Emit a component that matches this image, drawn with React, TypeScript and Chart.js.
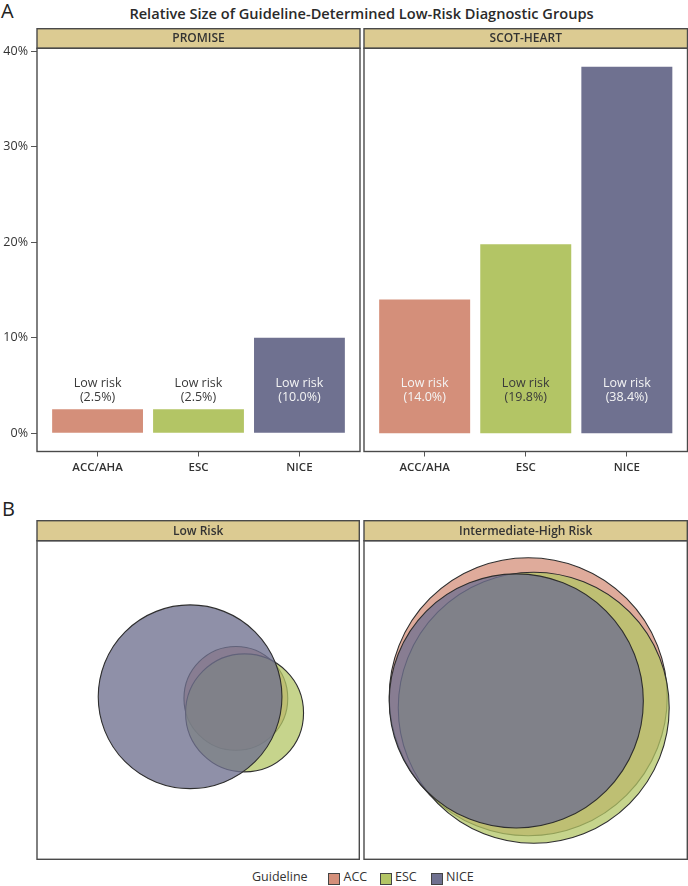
import React, { useEffect, useRef } from 'react';
import { Chart, registerables } from 'chart.js';

Chart.register(...registerables);

const FONT = '"Open Sans", "Noto Sans", "DejaVu Sans", sans-serif';

// ---------- Panel A data ----------
const guidelines = ['ACC/AHA', 'ESC', 'NICE'];
const promiseLowRisk = [2.5, 2.5, 10.0];
const scotHeartLowRisk = [14.0, 19.8, 38.4];
const yTickValues = [0, 10, 20, 30, 40];
const studyNames = ['PROMISE', 'SCOT-HEART'];

// ---------- Panel B data (Venn circles: centre x, centre y, radius in plot units) ----------
const vennGuidelines = ['ACC', 'ESC', 'NICE'];
const lowRiskX = [61.7, 64.4, 47.5];
const lowRiskY = [49.9, 45.4, 50.4];
const lowRiskR = [16.1, 18.3, 28.5];
const intHighX = [50.8, 52.5, 47.1];
const intHighY = [50.4, 47.0, 49.1];
const intHighR = [43.0, 41.9, 39.3];
const riskNames = ['Low Risk', 'Intermediate-High Risk'];

// ---------- styles ----------
const barColors = ['#d48f7a', '#b3c565', '#6f7190'];
const vennFill = ['rgba(212,143,122,0.75)', 'rgba(179,197,101,0.75)', 'rgba(111,113,144,0.78)'];
const labelInkOnBar = ['#f4f4f4', '#3a3a3a', '#f4f4f4'];
const STRIP_FILL = '#dccb92';
const BORDER = '#4a4a4a';
const LABEL_Y = 4.5;

const panelPlugin = {
  id: 'panelDecor',
  afterDatasetsDraw(chart: any, _args: any, opts: any) {
    const { ctx, chartArea: a } = chart;
    const w = a.right - a.left;
    ctx.save();
    ctx.fillStyle = STRIP_FILL;
    ctx.fillRect(a.left, a.top - opts.stripHeight, w, opts.stripHeight);
    ctx.lineWidth = 1.4;
    ctx.strokeStyle = BORDER;
    ctx.strokeRect(a.left, a.top - opts.stripHeight, w, opts.stripHeight);
    ctx.strokeRect(a.left, a.top, w, a.bottom - a.top);
    ctx.fillStyle = '#333';
    ctx.font = `600 12px ${FONT}`;
    ctx.textAlign = 'center';
    ctx.textBaseline = 'middle';
    ctx.fillText(opts.label, (a.left + a.right) / 2, a.top - opts.stripHeight / 2 + 0.5);
    ctx.restore();
  },
};

const barLabelPlugin = {
  id: 'barLabels',
  afterDatasetsDraw(chart: any) {
    const { ctx } = chart;
    const meta = chart.getDatasetMeta(0);
    const ys = chart.scales.y;
    const yc = ys.getPixelForValue(LABEL_Y);
    const data = chart.data.datasets[0].data;
    ctx.save();
    ctx.font = `12.5px ${FONT}`;
    ctx.textAlign = 'center';
    ctx.textBaseline = 'middle';
    meta.data.forEach((bar: any, i: number) => {
      const v = data[i].y;
      const onBar = v > LABEL_Y + 3;
      ctx.fillStyle = onBar ? labelInkOnBar[i] : '#3a3a3a';
      ctx.fillText('Low risk', bar.x, yc - 7.2);
      ctx.fillText(`(${v.toFixed(1)}%)`, bar.x, yc + 7.2);
    });
    ctx.restore();
  },
};

function makeBarChart(canvas: HTMLCanvasElement, values: number[], label: string, showY: boolean, padding: any) {
  return new Chart(canvas, {
    type: 'bar',
    data: {
      datasets: [
        {
          data: values.map((v, i) => ({ x: i + 1, y: v })),
          backgroundColor: barColors,
          borderWidth: 0,
          barPercentage: 0.9,
          categoryPercentage: 1,
        },
      ],
    },
    options: {
      animation: false,
      responsive: false,
      maintainAspectRatio: false,
      events: [],
      layout: { padding },
      plugins: {
        legend: { display: false },
        tooltip: { enabled: false },
        title: { display: false },
        panelDecor: { label, stripHeight: 19.6 },
      } as any,
      scales: {
        x: {
          type: 'linear',
          min: 0.4,
          max: 3.6,
          offset: false,
          afterBuildTicks: (s: any) => {
            s.ticks = guidelines.map((_, i) => ({ value: i + 1 }));
          },
          afterFit: (s: any) => {
            s.height = 38.5;
          },
          ticks: {
            autoSkip: false,
            maxRotation: 0,
            padding: 4,
            color: '#333',
            font: { family: FONT, size: 11.5, weight: '600' },
            callback: (v: any) => guidelines[Math.round(v) - 1],
          },
          grid: {
            display: true,
            offset: false,
            drawOnChartArea: false,
            drawTicks: true,
            tickLength: 5,
            color: '#555',
          },
          border: { display: false },
        },
        y: {
          display: showY,
          min: -1.92,
          max: 40.32,
          afterBuildTicks: (s: any) => {
            s.ticks = yTickValues.map((v) => ({ value: v }));
          },
          afterFit: (s: any) => {
            s.width = showY ? 37 : 0;
          },
          ticks: {
            padding: 3,
            color: '#333',
            font: { family: FONT, size: 12.5 },
            callback: (v: any) => `${v}%`,
          },
          grid: { display: true, drawOnChartArea: false, drawTicks: true, tickLength: 6, color: '#555' },
          border: { display: false },
        },
      } as any,
    },
    plugins: [panelPlugin, barLabelPlugin],
  } as any);
}

function makeVennChart(canvas: HTMLCanvasElement, xs: number[], ys: number[], rs: number[], label: string, padding: any) {
  return new Chart(canvas, {
    type: 'scatter',
    data: {
      labels: vennGuidelines,
      datasets: [
        {
          data: xs.map((x, i) => ({ x, y: ys[i] })),
          backgroundColor: vennFill,
          borderColor: '#2e2e2e',
          borderWidth: 1.1,
          pointStyle: 'circle',
          clip: false as any,
          pointRadius: (ctx: any) => {
            if (ctx.dataIndex === undefined) return 3;
            const sx = ctx.chart.scales.x;
            return Math.abs(sx.getPixelForValue(rs[ctx.dataIndex]) - sx.getPixelForValue(0));
          },
          pointHoverRadius: 0,
        },
      ],
    },
    options: {
      animation: false,
      responsive: false,
      maintainAspectRatio: false,
      events: [],
      layout: { padding },
      plugins: {
        legend: { display: false },
        tooltip: { enabled: false },
        panelDecor: { label, stripHeight: 20 },
      } as any,
      scales: {
        x: { type: 'linear', min: 0, max: 100, display: false },
        y: { type: 'linear', min: 0, max: 98.8, display: false },
      },
    },
    plugins: [panelPlugin],
  } as any);
}

export default function App() {
  const aL = useRef<HTMLCanvasElement>(null);
  const aR = useRef<HTMLCanvasElement>(null);
  const bL = useRef<HTMLCanvasElement>(null);
  const bR = useRef<HTMLCanvasElement>(null);

  useEffect(() => {
    const charts = [
      makeBarChart(aL.current!, promiseLowRisk, studyNames[0], true, { top: 48.3, left: 0, right: 2, bottom: 0 }),
      makeBarChart(aR.current!, scotHeartLowRisk, studyNames[1], false, { top: 48.3, left: 2, right: 0.5, bottom: 0 }),
      makeVennChart(bL.current!, lowRiskX, lowRiskY, lowRiskR, riskNames[0], { top: 40.7, left: 37, right: 2.7, bottom: 2.7 }),
      makeVennChart(bR.current!, intHighX, intHighY, intHighR, riskNames[1], { top: 40.7, left: 2, right: 0.7, bottom: 2.7 }),
    ];
    return () => charts.forEach((c) => c.destroy());
  }, []);

  const cv = (left: number, top: number, w: number, h: number): React.CSSProperties => ({
    position: 'absolute',
    left,
    top,
    width: w,
    height: h,
  });

  const legendItems = [
    { box: 328, text: 343.5 },
    { box: 380, text: 395 },
    { box: 430.7, text: 446 },
  ];

  return (
    <div
      style={{
        position: 'absolute',
        left: 0,
        top: 0,
        width: 688,
        height: 886,
        background: '#fff',
        fontFamily: FONT,
        color: '#222',
        overflow: 'hidden',
      }}
    >
      <div style={{ position: 'absolute', left: 1, top: 1, fontSize: 20, lineHeight: 1 }}>A</div>
      <div
        style={{
          position: 'absolute',
          left: 0,
          width: 723,
          top: 6,
          textAlign: 'center',
          fontSize: 14.6,
          fontWeight: 600,
          lineHeight: 1,
          color: '#2a2a2a',
        }}
      >
        Relative Size of Guideline-Determined Low-Risk Diagnostic Groups
      </div>
      <canvas ref={aL} width={362} height={490} style={cv(0, 0, 362, 490)} />
      <canvas ref={aR} width={326} height={490} style={cv(362, 0, 326, 490)} />
      <div style={{ position: 'absolute', left: 2, top: 499, fontSize: 20, lineHeight: 1 }}>B</div>
      <canvas ref={bL} width={362} height={362} style={cv(0, 500, 362, 362)} />
      <canvas ref={bR} width={326} height={362} style={cv(362, 500, 326, 362)} />
      <div style={{ position: 'absolute', left: 252, top: 871, fontSize: 12.5, lineHeight: 1, color: '#333' }}>
        Guideline
      </div>
      {legendItems.map((it, i) => (
        <React.Fragment key={vennGuidelines[i]}>
          <div
            style={{
              position: 'absolute',
              left: it.box,
              top: 873,
              width: 10,
              height: 10,
              background: barColors[i],
              border: '1px solid #444',
            }}
          />
          <div
            style={{ position: 'absolute', left: it.text, top: 871, fontSize: 12.5, lineHeight: 1, color: '#333' }}
          >
            {vennGuidelines[i]}
          </div>
        </React.Fragment>
      ))}
    </div>
  );
}
